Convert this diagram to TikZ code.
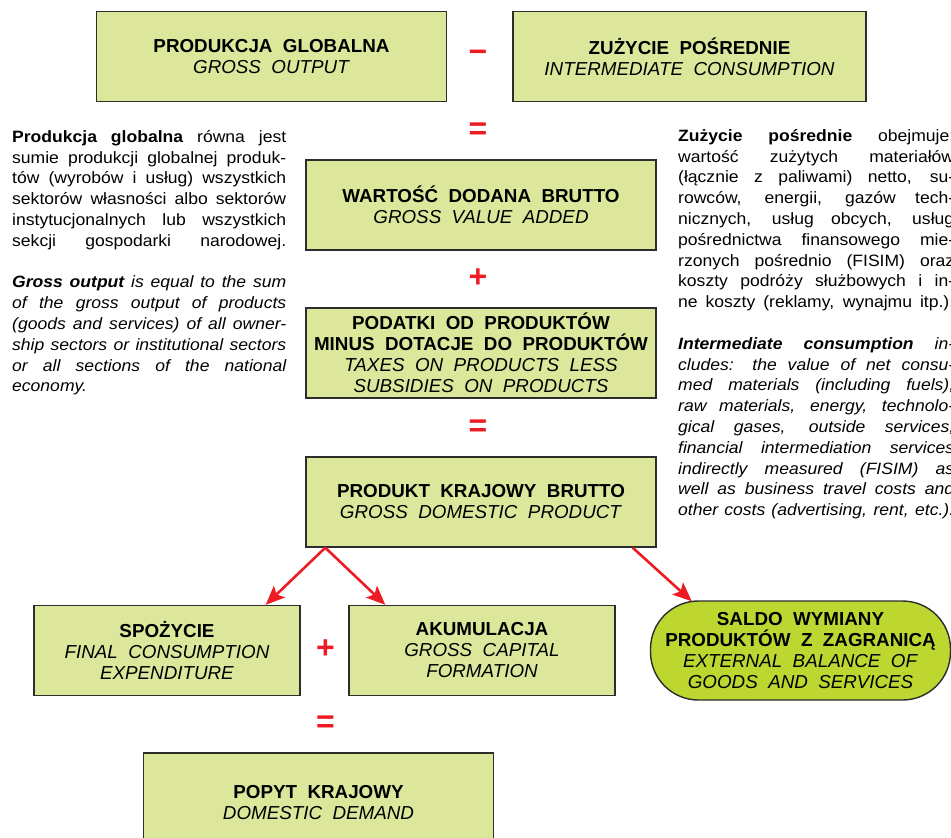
\documentclass[tikz,border=0pt]{standalone}
\usepackage{fontspec}
\setmainfont{Liberation Sans}
\newfontfamily\boxfont[WordSpace=2]{Liberation Sans}
\newfontfamily\notefont[FakeStretch=1.07]{Liberation Sans}
\usetikzlibrary{arrows.meta}

\definecolor{boxgreen}{RGB}{221,231,155}
\definecolor{ovalgreen}{RGB}{190,214,48}
\definecolor{opred}{RGB}{237,28,36}
\definecolor{edgegray}{RGB}{45,45,45}

\begin{document}
\begin{tikzpicture}[x=1pt, y=-1pt,
  box/.style={draw=edgegray, line width=1.4pt, fill=boxgreen, minimum width=350, minimum height=90,
    inner sep=0pt, align=center, font=\boxfont\fontsize{18.8}{21}\selectfont},
  op/.style={text=opred, inner sep=0pt, font=\fontsize{32}{32}\selectfont\bfseries},
  note/.style={text width=274, align=justify, inner sep=0pt, anchor=north west,
    font=\notefont\fontsize{16.4}{20.8}\selectfont},
  arr/.style={draw=opred, line width=2.6pt, ->},
  >={Stealth[length=19pt, width=16pt, inset=4pt]}]
\useasboundingbox (0,0) rectangle (951,838);

% Top row
\node[box] (gross) at (271.5,56.5) {\textbf{PRODUKCJA GLOBALNA}\\\textit{GROSS OUTPUT}};
\node[op] (minus) at (478,56) {−};
\node[box, minimum width=353] (interm) at (689.5,56.5) {\textbf{ZUŻYCIE POŚREDNIE}\\\textit{INTERMEDIATE CONSUMPTION}};

% Middle column
\node[op] (eq1) at (478,131) {=};
\node[box] (gva) at (481,205) {\textbf{WARTOŚĆ DODANA BRUTTO}\\\textit{GROSS VALUE ADDED}};
\node[op] (plus1) at (478,278) {+};
\node[box] (taxes) at (481,353) {\textbf{PODATKI OD PRODUKTÓW}\\\textbf{MINUS DOTACJE DO PRODUKTÓW}\\
  \textit{TAXES ON PRODUCTS LESS}\\\textit{SUBSIDIES ON PRODUCTS}};
\node[op] (eq2) at (478,428) {=};
\node[box] (gdp) at (481,502) {\textbf{PRODUKT KRAJOWY BRUTTO}\\\textit{GROSS DOMESTIC PRODUCT}};

% Bottom row
\node[box, minimum width=266] (cons) at (167,650.5) {\textbf{SPOŻYCIE}\\\textit{FINAL CONSUMPTION}\\\textit{EXPENDITURE}};
\node[op] (plus2) at (325.5,649.5) {+};
\node[box, minimum width=266] (accum) at (482,650.5) {\textbf{AKUMULACJA}\\\textit{GROSS CAPITAL}\\\textit{FORMATION}};
\node[box, fill=ovalgreen, minimum width=300, minimum height=99, rounded corners=48] (balance) at (800.5,650.5)
  {\textbf{SALDO WYMIANY}\\\textbf{PRODUKTÓW Z ZAGRANICĄ}\\\textit{EXTERNAL BALANCE OF}\\\textit{GOODS AND SERVICES}};
\node[op] (eq3) at (325.5,724.5) {=};
\node[box, minimum height=100] (demand) at (318.5,803) {\textbf{POPYT KRAJOWY}\\\textit{DOMESTIC DEMAND}};

% Arrows out of GDP
\draw[arr] ([xshift=20]gdp.south west) -- ([xshift=-35]cons.north east);
\draw[arr] ([xshift=20]gdp.south west) -- ([xshift=37]accum.north west);
\draw[arr] ([xshift=-24]gdp.south east) -- ([xshift=42,yshift=-1]balance.north west);

% Notes
\node[note] (grossnote) at (12,127.5) {\strut\textbf{Produkcja globalna} równa jest\linebreak
  sumie produkcji globalnej produk-\linebreak
  tów (wyrobów i usług) wszystkich\linebreak
  sektorów własności albo sektorów\linebreak
  instytucjonalnych lub wszystkich\linebreak
  sekcji gospodarki narodowej.{\parfillskip=0pt\par}
  \vspace{20.8pt}
  \itshape\textbf{Gross output} is equal to the sum\linebreak
  of the gross output of products\linebreak
  (goods and services) of all owner-\linebreak
  ship sectors or institutional sectors\linebreak
  or all sections of the national\linebreak
  economy.};
\node[note, text width=276] (intermnote) at (678,126.5) {\strut\textbf{Zużycie pośrednie} obejmuje:\linebreak
  wartość zużytych materiałów\linebreak
  (łącznie z paliwami) netto, su-\linebreak
  rowców, energii, gazów tech-\linebreak
  nicznych, usług obcych, usług\linebreak
  pośrednictwa finansowego mie-\linebreak
  rzonych pośrednio (FISIM) oraz\linebreak
  koszty podróży służbowych i in-\linebreak
  ne koszty (reklamy, wynajmu itp.).{\parfillskip=0pt\par}
  \vspace{20.8pt}
  \itshape\textbf{Intermediate consumption} in-\linebreak
  cludes: the value of net consu-\linebreak
  med materials (including fuels),\linebreak
  raw materials, energy, technolo-\linebreak
  gical gases, outside services,\linebreak
  financial intermediation services\linebreak
  indirectly measured (FISIM) as\linebreak
  well as business travel costs and\linebreak
  other costs (advertising, rent, etc.).{\parfillskip=0pt\par}};
\end{tikzpicture}
\end{document}
